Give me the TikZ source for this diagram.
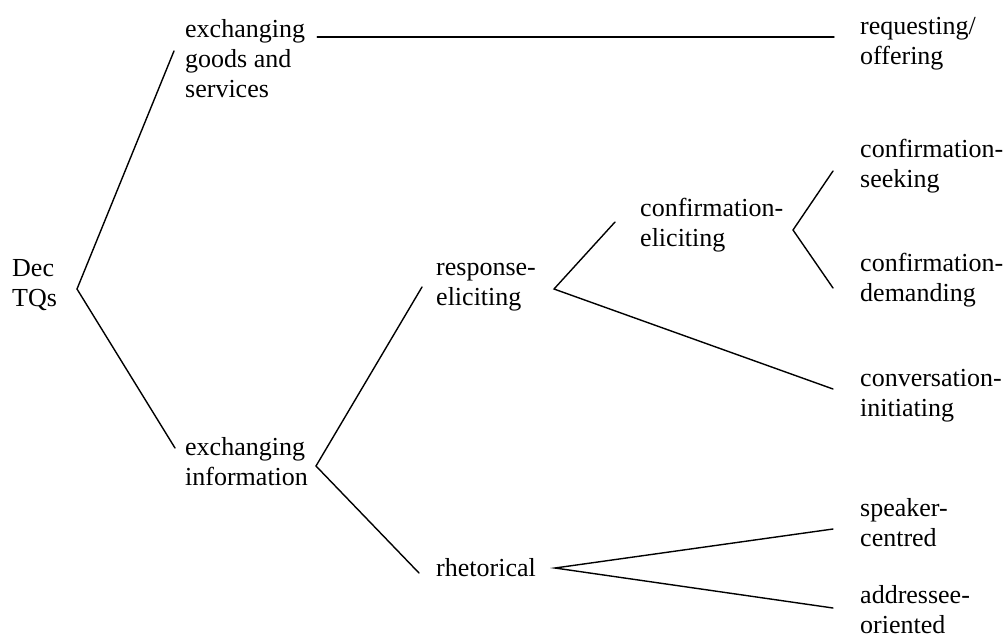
\documentclass[tikz,border=0pt]{standalone}
\usepackage{fontspec}
\setmainfont{Liberation Serif}
\usepackage{tikz}

\tikzset{
  lbl/.style={anchor=west, inner sep=0pt, align=left, font=\fontsize{26}{30}\selectfont},
  conn/.style={line width=1.4pt, line cap=round}
}

\begin{document}
\begin{tikzpicture}[x=1pt, y=-1pt]
            \useasboundingbox (0,0) rectangle (1006,638);
            % Các nhãn
            \node[lbl] (dec) at (12,285) {Dec\\TQs};
            \node[lbl] (goods) at (185,59) {exchanging\\goods and\\services};
            \node[lbl] (info) at (185,462) {exchanging\\information};
            \node[lbl] (req) at (860,44) {requesting/\\offering};
            \node[lbl] (resp) at (436,287) {response-\\eliciting};
            \node[lbl] (rhet) at (436,568) {rhetorical};
            \node[lbl] (confel) at (640,225) {confirmation-\\eliciting};
            \node[lbl] (seek) at (860,166) {confirmation-\\seeking};
            \node[lbl] (demand) at (860,280) {confirmation-\\demanding};
            \node[lbl] (conv) at (860,396) {conversation-\\initiating};
            \node[lbl] (speak) at (860,523) {speaker-\\centred};
            \node[lbl] (addr) at (860,610) {addressee-\\oriented};

            % Điểm rẽ nhánh
            \coordinate (decfork) at (77,289);
            \coordinate (infofork) at (316,466);
            \coordinate (respfork) at (554,289);
            \coordinate (confork) at (793,230);
            \coordinate (rhetfork) at (555,568);

            % Các nhánh
            \draw[conn] ([xshift=-11pt,yshift=8pt]goods.west) -- (decfork) -- ([xshift=-10pt,yshift=14pt]info.west);
            \draw[conn] ([xshift=12pt,yshift=22pt]goods.east) -- ([xshift=-26pt,yshift=7pt]req.west);
            \draw[conn] ([xshift=-14pt]resp.west) -- (infofork) -- ([xshift=-17pt,yshift=-5pt]rhet.west);
            \draw[conn] ([xshift=-25pt,yshift=3pt]confel.west) -- (respfork) -- ([xshift=-27pt,yshift=7pt]conv.west);
            \draw[conn] ([xshift=-27pt,yshift=-5pt]seek.west) -- (confork) -- ([xshift=-27pt,yshift=-8pt]demand.west);
            \draw[conn] ([xshift=-27pt,yshift=-6pt]speak.west) -- (rhetfork) -- ([xshift=-27pt,yshift=2pt]addr.west);
\end{tikzpicture}
\end{document}
